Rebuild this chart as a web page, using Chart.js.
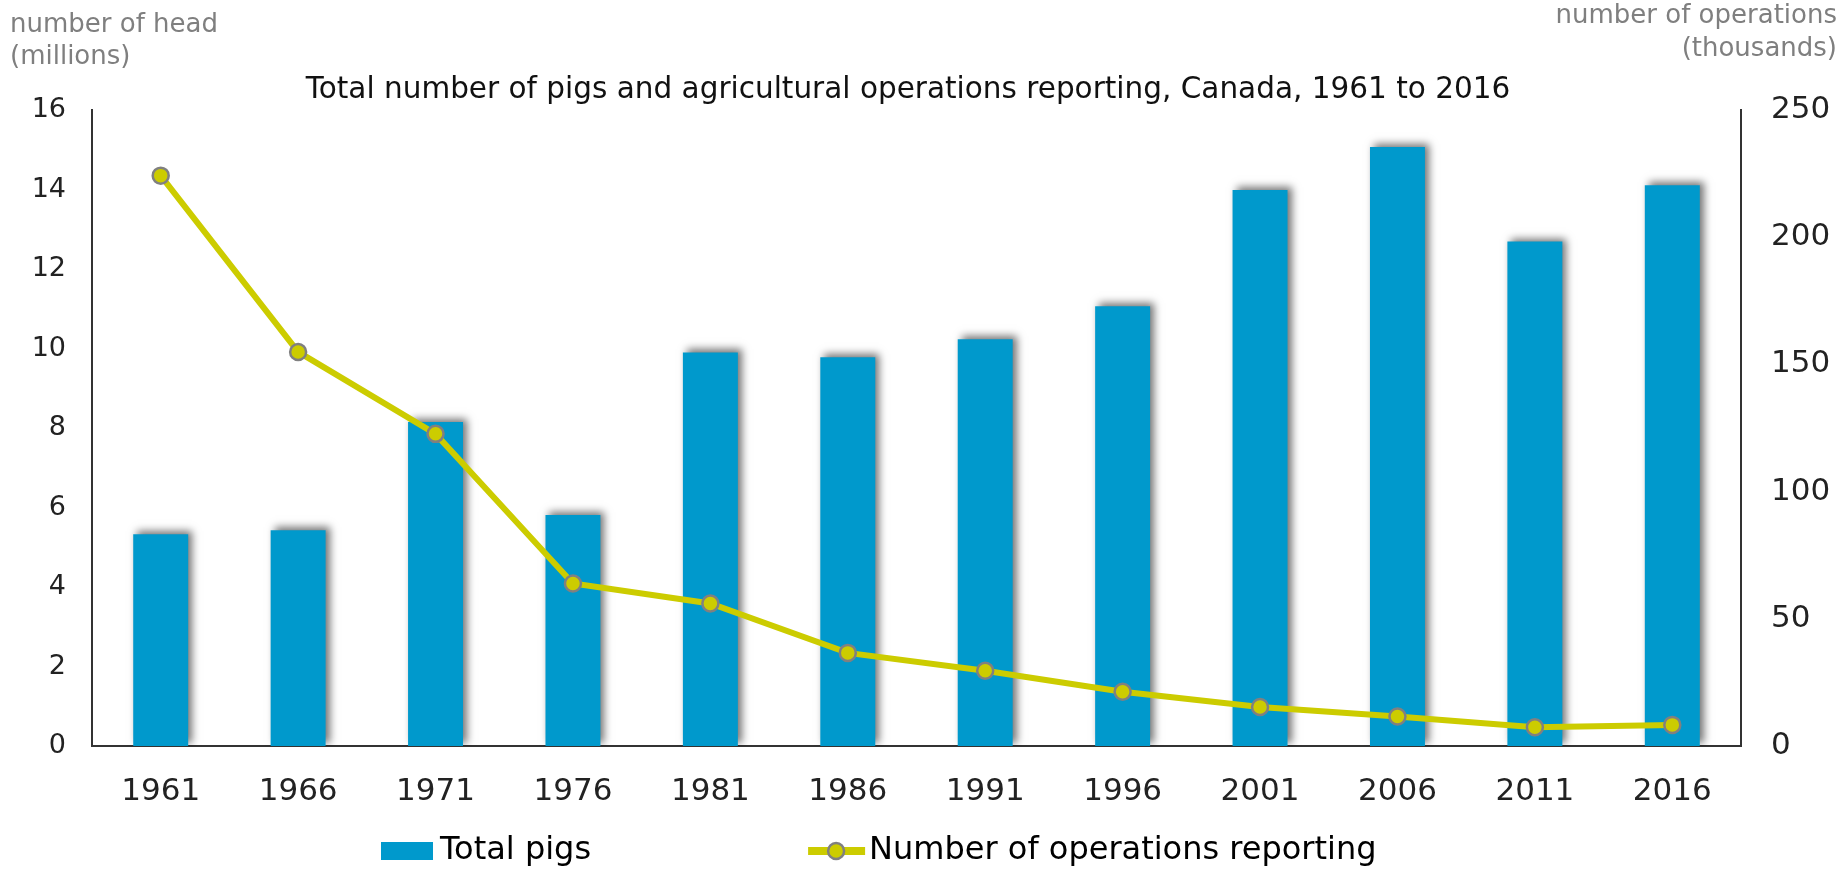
<!DOCTYPE html>
<html>
<head>
<meta charset="utf-8">
<script src="https://cdn.jsdelivr.net/npm/chart.js@4/dist/chart.umd.min.js"></script>
<style>
  html, body { margin: 0; padding: 0; background: #fff; }
</style>
</head>
<body>
<canvas id="pigChart" width="1848" height="869"></canvas>
<script>
let years = ['1961', '1966', '1971', '1976', '1981', '1986', '1991', '1996', '2001', '2006', '2011', '2016'];
// millions of head
let totalPigs = [5.33, 5.43, 8.15, 5.81, 9.90, 9.78, 10.23, 11.06, 13.99, 15.07, 12.69, 14.11];
// thousands of operations
let operations = [224.2, 154.9, 122.7, 63.9, 56.0, 36.6, 29.6, 21.3, 15.3, 11.6, 7.4, 8.3];
let leftTicks = [0, 2, 4, 6, 8, 10, 12, 14, 16];
let rightTicks = [0, 50, 100, 150, 200, 250];

let chartTitle = 'Total number of pigs and agricultural operations reporting, Canada, 1961 to 2016';
let leftTitle = ['number of head', '(millions)'];
let rightTitle = ['number of operations', '(thousands)'];

let fontFamily = 'Verdana, "DejaVu Sans", sans-serif';
let barColor = '#0099CC';
let lineColor = '#CCCC00';
let markerEdge = '#808080';

// soft shadow behind the bars
const barShadow = {
  id: 'barShadow',
  beforeDatasetDraw(chart, args) {
    if (args.meta.type !== 'bar') return;
    const ctx = chart.ctx;
    ctx.save();
    ctx.shadowColor = 'rgba(0,0,0,0.55)';
    ctx.shadowBlur = 8;
    ctx.shadowOffsetX = 4;
    ctx.shadowOffsetY = -3;
  },
  afterDatasetDraw(chart, args) {
    if (args.meta.type !== 'bar') return;
    chart.ctx.restore();
  }
};

// title, axis titles and legend
const textBits = {
  id: 'textBits',
  afterDraw(chart) {
    const ctx = chart.ctx;
    ctx.save();
    ctx.textBaseline = 'middle';

    ctx.fillStyle = '#111';
    ctx.font = '29.5px ' + fontFamily;
    ctx.textAlign = 'center';
    ctx.fillText(chartTitle, 908, 90);

    ctx.fillStyle = '#7f7f7f';
    ctx.font = '26px ' + fontFamily;
    ctx.textAlign = 'left';
    ctx.fillText(leftTitle[0], 10, 25);
    ctx.fillText(leftTitle[1], 10, 57);
    ctx.textAlign = 'right';
    ctx.fillText(rightTitle[0], 1837, 16);
    ctx.fillText(rightTitle[1], 1837, 49);

    // legend
    const ds = chart.data.datasets;
    const ly = 851;
    let x = 381;
    ctx.font = '32px ' + fontFamily;
    ctx.textAlign = 'left';
    ctx.fillStyle = ds[1].backgroundColor;
    ctx.fillRect(x, ly - 9, 52, 18);
    ctx.fillStyle = '#000';
    ctx.fillText(ds[1].label, x + 59, ly);
    x = x + 59 + ctx.measureText(ds[1].label).width + 217;

    ctx.strokeStyle = ds[0].borderColor;
    ctx.lineWidth = 8;
    ctx.beginPath();
    ctx.moveTo(x, ly);
    ctx.lineTo(x + 57, ly);
    ctx.stroke();
    ctx.beginPath();
    ctx.arc(x + 28, ly, 8, 0, Math.PI * 2);
    ctx.fillStyle = ds[0].pointBackgroundColor;
    ctx.fill();
    ctx.lineWidth = 2.5;
    ctx.strokeStyle = ds[0].pointBorderColor;
    ctx.stroke();
    ctx.fillStyle = '#000';
    ctx.fillText(ds[0].label, x + 61, ly);
    ctx.restore();
  }
};

let ctx = document.getElementById('pigChart').getContext('2d');

let pigChart = new Chart(ctx, {
  data: {
    labels: years,
    datasets: [{
      type: 'line',
      label: 'Number of operations reporting',
      data: operations,
      yAxisID: 'y1',
      borderColor: lineColor,
      borderWidth: 6,
      tension: 0,
      pointRadius: 8,
      pointBackgroundColor: lineColor,
      pointBorderColor: markerEdge,
      pointBorderWidth: 2.5,
      clip: false,
      order: 0
    }, {
      type: 'bar',
      label: 'Total pigs',
      data: totalPigs,
      yAxisID: 'y',
      backgroundColor: barColor,
      categoryPercentage: 0.8,
      barPercentage: 0.5,
      order: 1
    }]
  },
  options: {
    responsive: false,
    animation: false,
    devicePixelRatio: 1,
    layout: { padding: { top: 110, left: 0, right: 0, bottom: 0 } },
    plugins: {
      legend: { display: false },
      title: { display: false },
      tooltip: { enabled: false }
    },
    scales: {
      x: {
        offset: true,
        grid: { display: false, drawTicks: false },
        border: { display: true, color: '#333', width: 2 },
        ticks: {
          color: '#222',
          padding: 27,
          font: { family: fontFamily, size: 31 }
        },
        afterFit(scale) { scale.height = 123; }
      },
      y: {
        position: 'left',
        min: 0,
        max: 16,
        grid: { display: false, drawTicks: false },
        border: { display: true, color: '#333', width: 2 },
        afterBuildTicks(scale) { scale.ticks = leftTicks.map(v => ({ value: v })); },
        ticks: {
          color: '#222',
          padding: 26,
          font: { family: fontFamily, size: 27 }
        },
        afterFit(scale) { scale.width = 92; }
      },
      y1: {
        position: 'right',
        min: 0,
        max: 250,
        grid: { display: false, drawTicks: false },
        border: { display: true, color: '#333', width: 2 },
        afterBuildTicks(scale) { scale.ticks = rightTicks.map(v => ({ value: v })); },
        ticks: {
          color: '#222',
          padding: 30,
          font: { family: fontFamily, size: 31 }
        },
        afterFit(scale) { scale.width = 107; }
      }
    }
  },
  plugins: [barShadow, textBits]
});
</script>
</body>
</html>
